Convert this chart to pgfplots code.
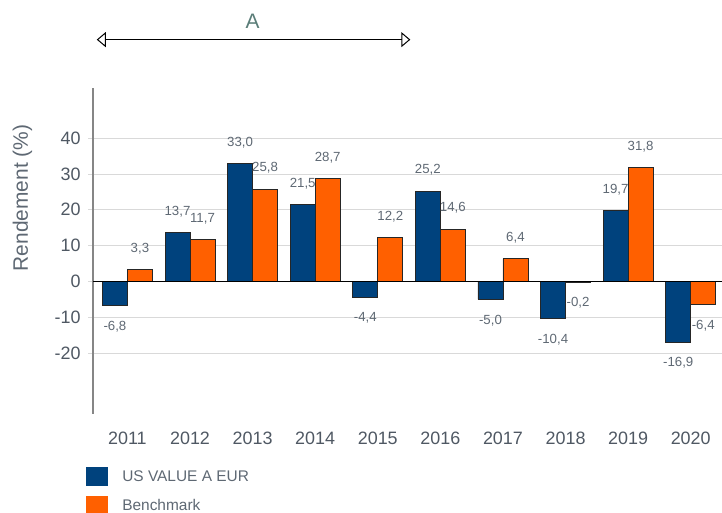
\documentclass[border=0pt]{standalone}
\usepackage{pgfplots}
\pgfplotsset{compat=1.18}
\usepackage{fontspec}
\setmainfont{Liberation Sans}
\usetikzlibrary{arrows.meta}
\definecolor{cblue}{HTML}{00427D}
\definecolor{corange}{HTML}{FF6000}
\definecolor{tickgray}{HTML}{4F5863}
\definecolor{labgray}{HTML}{5E6873}
\definecolor{gridgray}{HTML}{D9D9D9}
\definecolor{teal}{HTML}{5A7D78}
\begin{document}
\begin{tikzpicture}[x=1bp,y=1bp]
\useasboundingbox (0,0) rectangle (722,513);
\begin{axis}[
  at={(93bp,99bp)}, anchor=south west,
  scale only axis, width=629bp, height=326bp,
  xmin=-0.55, xmax=9.5, ymin=-37, ymax=54,
  ybar=0pt, bar width=25bp,
  axis lines*=left,
  x axis line style={draw=none},
  y axis line style={draw=gray!95, line width=1.6bp},
  xtick={0,...,9},
  xticklabels={2011,2012,2013,2014,2015,2016,2017,2018,2019,2020},
  x tick style={draw=none},
  ytick={-20,-10,0,10,20,30,40},
  y tick style={draw=gridgray, line width=0.8bp},
  tick align=outside, major tick length=5bp,
  ymajorgrids, grid style={draw=gridgray, line width=0.9bp},
  tick label style={font=\fontsize{18}{20}\selectfont, text=tickgray},
  xticklabel style={yshift=-9bp},
  yticklabel style={xshift=-4bp},
  /pgf/number format/assume math mode=true,
  ylabel={Rendement (\%)},
  ylabel style={font=\fontsize{21}{23}\selectfont, text=labgray, at={(axis description cs:-0.091,0.663)}, anchor=south},
  clip=false,
  nodes near coords,
  nodes near coords align={vertical},
  point meta=explicit,
  every node near coord/.append style={font=\fontsize{13.3}{15}\selectfont, text=labgray,
     inner sep=0pt, outer sep=15.5bp,
     /pgf/number format/.cd, fixed, fixed zerofill, precision=1, use comma, assume math mode=true},
  legend style={at={(axis description cs:-0.011,-0.163)}, anchor=north west, draw=none, fill=none,
     font=\fontsize{15.5}{17}\selectfont, text=labgray, row sep=10bp, inner sep=0pt,
     nodes={inner sep=0pt},
     /tikz/every odd column/.append style={column sep=14bp}},
  legend cell align=left,
  legend image code/.code={\fill[#1,draw=none] (0bp,-9.5bp) rectangle (22bp,9.5bp);},
]
\addplot[fill=cblue, draw=black!85, line width=0.8bp] coordinates {
(0,-6.8) [-6.8] (1,13.7) [13.7] (2,33.0) [33.0] (3,21.5) [21.5] (4,-4.4) [-4.4]
(5,25.2) [25.2] (6,-5.0) [-5.0] (7,-10.4) [-10.4] (8,19.7) [19.7] (9,-16.9) [-16.9]};
\addplot[fill=corange, draw=black!85, line width=0.8bp] coordinates {
(0,3.3) [3.3] (1,11.7) [11.7] (2,25.8) [25.8] (3,28.7) [28.7] (4,12.2) [12.2]
(5,14.6) [14.6] (6,6.4) [6.4] (7,-0.2) [-0.2] (8,31.8) [31.8] (9,-6.4) [-6.4]};
\legend{US VALUE A EUR, Benchmark}
\draw[black, line width=0.9bp] (axis cs:-0.55,0) -- (axis cs:9.5,0);
\draw[black, line width=1bp, {Triangle[open,length=9bp,width=15bp]}-{Triangle[open,length=9bp,width=15bp]}] (axis cs:-0.49,67.5) -- (axis cs:4.52,67.5);
\node[font=\fontsize{21}{23}\selectfont, text=teal] at (axis cs:2.0,72.6) {A};
\end{axis}
\end{tikzpicture}
\end{document}
